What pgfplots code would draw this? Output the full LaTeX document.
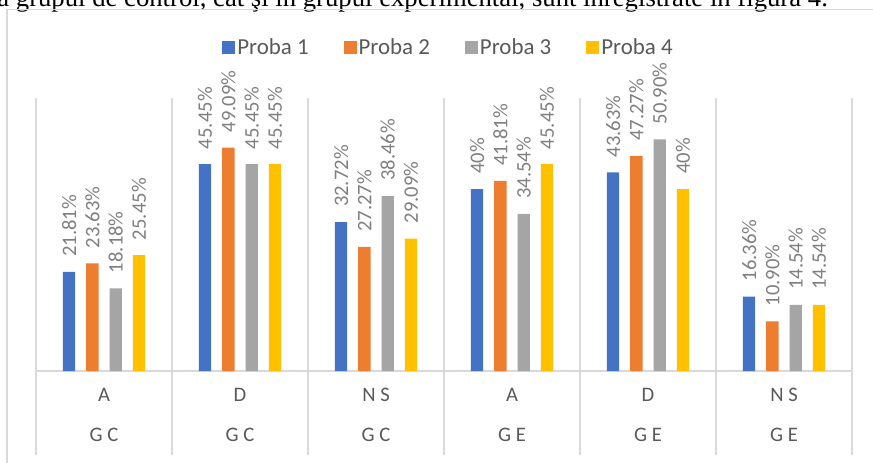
\documentclass[border=0pt]{standalone}
\usepackage{fontspec}
\setmainfont{Carlito}
\newfontfamily\serifdoc{Liberation Serif}
\usepackage{pgfplots}
\pgfplotsset{compat=1.18}
\definecolor{cblue}{HTML}{4472C4}
\definecolor{corange}{HTML}{ED7D31}
\definecolor{cgray}{HTML}{A5A5A5}
\definecolor{cyellow}{HTML}{FFC000}
\definecolor{gridc}{HTML}{D9D9D9}
\definecolor{axtext}{HTML}{595959}
\definecolor{lbltext}{HTML}{7F7F7F}
\begin{document}
\begin{tikzpicture}
\useasboundingbox (0,0) rectangle (873bp,463bp);
\clip (0,0) rectangle (873bp,463bp);
\node[anchor=base east, inner sep=0pt, font=\serifdoc\fontsize{26.8}{30}\selectfont] at (828bp,456.5bp)
  {la grupul de control, cât şi în grupul experimental, sunt înregistrate în figura 4.};
\draw[gridc, line width=1.2bp] (7bp,-5bp) -- (7bp,453.5bp) -- (880bp,453.5bp);
\begin{axis}[
  at={(36bp,92bp)}, anchor=south west,
  scale only axis, width=816bp, height=273bp,
  clip=false,
  ybar=11bp, bar width=12.3bp,
  xmin=-0.5, xmax=5.5, ymin=0, ymax=60,
  enlargelimits=false,
  axis x line*=bottom, axis y line=none,
  x axis line style={-, draw=gridc, line width=1.2bp},
  xtick={0,1,2,3,4,5},
  xticklabels={{A\\G C},{D\\G C},{N S\\G C},{A\\G E},{D\\G E},{N S\\G E}},
  major tick length=0pt,
  minor xtick={-0.5,0.5,1.5,2.5,3.5,4.5,5.5},
  minor tick length=84bp,
  tick align=outside,
  xminorgrids=true,
  minor grid style={draw=gridc, line width=1.2bp},
  minor tick style={draw=gridc, line width=1.2bp},
  xticklabel style={align=center, text=axtext, font=\fontsize{20.7}{40}\selectfont, anchor=north, yshift=-14bp},
  point meta=explicit symbolic,
  nodes near coords,
  every node near coord/.append style={rotate=90, anchor=west, inner xsep=15bp, inner ysep=0pt,
     text=lbltext, font=\fontsize{20.7}{24}\selectfont},
  legend style={at={(0.5055,1.185)}, anchor=center, draw=none, fill=none,
     legend columns=4, font=\fontsize{23}{26}\selectfont, text=axtext,
     /tikz/every even column/.append style={column sep=33bp}},
  legend image code/.code={\fill[#1] (0bp,-6.5bp) rectangle (13bp,6.5bp);},
]
\addplot[fill=cblue, draw=none] coordinates {
  (0,21.81) [21.81\%] (1,45.45) [45.45\%] (2,32.72) [32.72\%]
  (3,40) [40\%] (4,43.63) [43.63\%] (5,16.36) [16.36\%]};
\addplot[fill=corange, draw=none] coordinates {
  (0,23.63) [23.63\%] (1,49.09) [49.09\%] (2,27.27) [27.27\%]
  (3,41.81) [41.81\%] (4,47.27) [47.27\%] (5,10.90) [10.90\%]};
\addplot[fill=cgray, draw=none] coordinates {
  (0,18.18) [18.18\%] (1,45.45) [45.45\%] (2,38.46) [38.46\%]
  (3,34.54) [34.54\%] (4,50.90) [50.90\%] (5,14.54) [14.54\%]};
\addplot[fill=cyellow, draw=none] coordinates {
  (0,25.45) [25.45\%] (1,45.45) [45.45\%] (2,29.09) [29.09\%]
  (3,45.45) [45.45\%] (4,40) [40\%] (5,14.54) [14.54\%]};
\legend{Proba 1,Proba 2,Proba 3,Proba 4}
\end{axis}
\end{tikzpicture}
\end{document}
